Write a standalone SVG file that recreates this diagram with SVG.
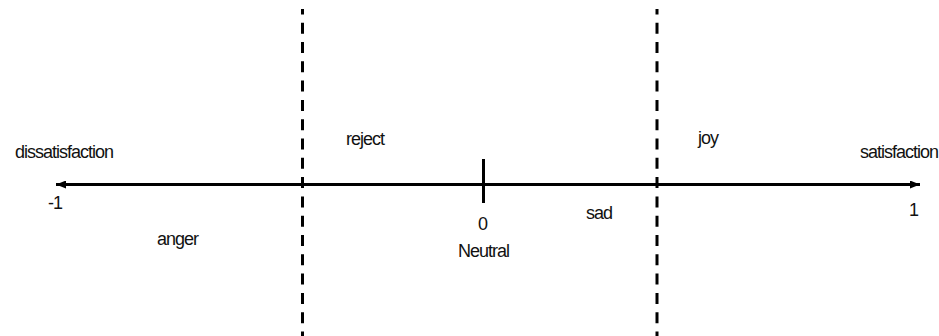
<svg xmlns="http://www.w3.org/2000/svg" width="939" height="336" viewBox="0 0 939 336">
<style>
.t{font-family:"Liberation Sans",Arial,sans-serif;font-size:18px;letter-spacing:-1px;fill:#111}
.d{stroke:#000;stroke-width:3;stroke-dasharray:11 8.3;stroke-dashoffset:5.6;fill:none}
.ax{stroke:#000;stroke-width:3;fill:none}
</style>
<defs>
<marker id="ah" viewBox="0 0 10 8" refX="10" refY="4" markerWidth="10" markerHeight="8" markerUnits="userSpaceOnUse" orient="auto-start-reverse">
<path d="M0,0 L10,4 L0,8 Z" fill="#000"/>
</marker>
</defs>
<rect width="939" height="336" fill="#fff"/>
<g id="connectors">
<line class="ax" x1="56" y1="184.5" x2="920" y2="184.5" marker-start="url(#ah)" marker-end="url(#ah)"/>
<line class="ax" x1="483.5" y1="159" x2="483.5" y2="203"/>
<line class="d" x1="302.5" y1="9" x2="302.5" y2="336"/>
<line class="d" x1="657" y1="9" x2="657" y2="336"/>
</g>
<g id="dissatisfaction"><text class="t" x="15" y="158">dissatisfaction</text></g>
<g id="satisfaction"><text class="t" x="860" y="158">satisfaction</text></g>
<g id="minus-one"><text class="t" x="48" y="209">-1</text></g>
<g id="one"><text class="t" x="909" y="216">1</text></g>
<g id="reject"><text class="t" x="346" y="145">reject</text></g>
<g id="joy"><text class="t" x="698" y="144">joy</text></g>
<g id="sad"><text class="t" x="586" y="219">sad</text></g>
<g id="zero"><text class="t" x="478" y="230">0</text></g>
<g id="neutral"><text class="t" x="458" y="257">Neutral</text></g>
<g id="anger"><text class="t" x="157" y="245">anger</text></g>
</svg>
